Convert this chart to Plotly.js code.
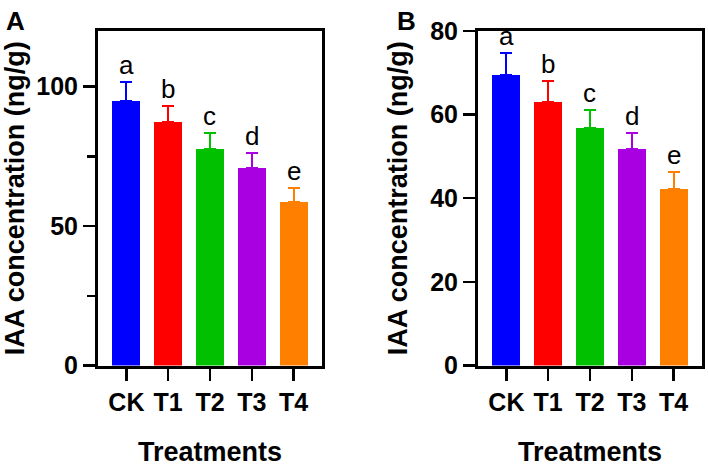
<!DOCTYPE html>
<html>
<head>
<meta charset="utf-8">
<script src="https://cdn.plot.ly/plotly-3.0.1.min.js"></script>
<style>
  html, body { margin: 0; padding: 0; background: #fff; }
  #chart { width: 708px; height: 468px; }
</style>
</head>
<body>
<div id="chart"></div>
<script>
// Treatment groups and bar colours
const treatments = ['CK', 'T1', 'T2', 'T3', 'T4'];
const barColors = ['#0000FF', '#FF0000', '#00C000', '#A800E0', '#FF8000'];

// Panel A: IAA concentration (ng/g), mean and SD
const meansA = [95.0, 87.2, 77.8, 71.0, 58.6];
const sdA = [6.6, 6.0, 5.5, 5.2, 5.0];
const lettersA = ['a', 'b', 'c', 'd', 'e'];

// Panel B: IAA concentration (ng/g), mean and SD
const meansB = [69.5, 63.1, 56.8, 51.7, 42.3];
const sdB = [5.2, 4.9, 4.4, 4.0, 3.9];
const lettersB = ['a', 'b', 'c', 'd', 'e'];

const FONT = 'Arial, "Liberation Sans", sans-serif';

// One trace per bar so each error bar takes its bar's colour
function barTraces(means, sds, xa, ya) {
  return treatments.map((t, i) => ({
    type: 'bar',
    x: [t],
    y: [means[i]],
    xaxis: xa,
    yaxis: ya,
    width: 0.67,
    marker: { color: barColors[i], line: { width: 0 } },
    error_y: {
      type: 'data',
      symmetric: false,
      array: [sds[i]],
      arrayminus: [0],
      color: barColors[i],
      thickness: 2,
      width: 6
    },
    showlegend: false,
    hoverinfo: 'x+y'
  }));
}

function letterAnnotations(means, sds, letters, xr, yr) {
  return treatments.map((t, i) => ({
    xref: xr, yref: yr,
    x: t, y: means[i] + sds[i],
    text: letters[i],
    showarrow: false,
    yanchor: 'bottom',
    yshift: 0,
    font: { family: FONT, size: 26, color: '#000' }
  }));
}

const xCommon = {
  type: 'category',
  range: [-0.68, 4.68],
  showline: true,
  linecolor: '#000',
  linewidth: 3,
  mirror: true,
  ticks: 'outside',
  ticklen: 12,
  tickwidth: 2.5,
  tickcolor: '#000',
  tickfont: { family: FONT, size: 25, color: '#000', weight: 'bold' },
  showgrid: false,
  zeroline: false,
  fixedrange: true,
  title: {
    text: 'Treatments',
    font: { family: FONT, size: 27, color: '#000', weight: 'bold' },
    standoff: 28
  }
};

const yCommon = {
  showline: true,
  linecolor: '#000',
  linewidth: 3,
  mirror: true,
  ticks: 'outside',
  ticklen: 12,
  tickwidth: 2.5,
  tickcolor: '#000',
  tickfont: { family: FONT, size: 25, color: '#000', weight: 'bold' },
  showgrid: false,
  zeroline: false,
  fixedrange: true,
  title: {
    text: 'IAA concentration (ng/g)',
    font: { family: FONT, size: 27, color: '#000', weight: 'bold' },
    standoff: 15
  }
};

const yDomain = [0.219, 0.934];

const layout = {
  width: 708,
  height: 468,
  margin: { l: 0, r: 0, t: 0, b: 0 },
  paper_bgcolor: '#fff',
  plot_bgcolor: '#fff',
  bargap: 0,
  xaxis: Object.assign({}, xCommon, { domain: [0.1384, 0.4548], anchor: 'y' }),
  yaxis: Object.assign({}, yCommon, {
    domain: yDomain, anchor: 'x',
    range: [0, 120],
    tickvals: [0, 50, 100],
    minor: { tickvals: [25, 75], ticks: 'outside', ticklen: 8, tickwidth: 2.5, tickcolor: '#000' }
  }),
  xaxis2: Object.assign({}, xCommon, { domain: [0.6751, 0.9915], anchor: 'y2' }),
  yaxis2: Object.assign({}, yCommon, {
    domain: yDomain, anchor: 'x2',
    range: [0, 80],
    tickvals: [0, 20, 40, 60, 80]
  }),
  annotations: [
    ...letterAnnotations(meansA, sdA, lettersA, 'x', 'y'),
    ...letterAnnotations(meansB, sdB, lettersB, 'x2', 'y2'),
    {
      xref: 'paper', yref: 'paper', x: 4 / 708, y: 1 - 4 / 468,
      xanchor: 'left', yanchor: 'top', showarrow: false,
      text: 'A', font: { family: FONT, size: 26, color: '#000', weight: 'bold' }
    },
    {
      xref: 'paper', yref: 'paper', x: 395 / 708, y: 1 - 4 / 468,
      xanchor: 'left', yanchor: 'top', showarrow: false,
      text: 'B', font: { family: FONT, size: 26, color: '#000', weight: 'bold' }
    }
  ]
};

const data = [
  ...barTraces(meansA, sdA, 'x', 'y'),
  ...barTraces(meansB, sdB, 'x2', 'y2')
];

Plotly.newPlot('chart', data, layout, { displayModeBar: false, staticPlot: true });
</script>
</body>
</html>
